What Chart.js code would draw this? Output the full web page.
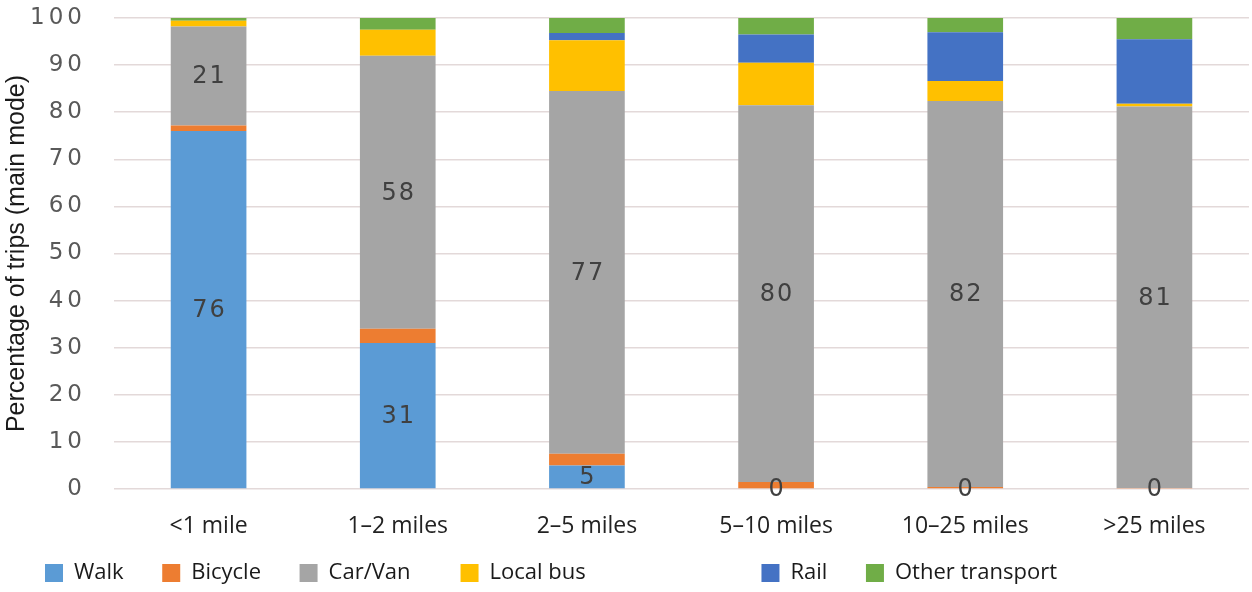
<!DOCTYPE html>
<html>
<head>
<meta charset="utf-8">
<title>Trips by main mode and distance</title>
<script src="https://cdn.jsdelivr.net/npm/chart.js@4.4.1/dist/chart.umd.min.js"></script>
<style>
  html, body { margin: 0; padding: 0; background: #ffffff; }
  canvas { display: block; }
</style>
</head>
<body>
<canvas id="modeChart" width="1252" height="592"></canvas>
<script>
// Trip distance bands (x categories)
const distanceBands = ['<1 mile', '1–2 miles', '2–5 miles', '5–10 miles', '10–25 miles', '>25 miles'];

// Share of trips by main mode, per distance band (%)
const walk     = [76, 31, 5, 0, 0, 0];
const bicycle  = [1.2, 3, 2.5, 1.5, 0.4, 0.2];
const carVan   = [21, 58, 77, 80, 82, 81];
const localBus = [1.2, 5.5, 10.8, 9, 4.2, 0.6];
const rail     = [0, 0, 1.5, 6, 10.4, 13.7];
const other    = [0.6, 2.5, 3.2, 3.5, 3.0, 4.5];

// Mode names and y-axis tick values
const modeNames = ['Walk', 'Bicycle', 'Car/Van', 'Local bus', 'Rail', 'Other transport'];
const percentTicks = [0, 10, 20, 30, 40, 50, 60, 70, 80, 90, 100];

const modeColours = ['#5b9bd5', '#ed7d31', '#a5a5a5', '#ffc000', '#4472c4', '#70ad47'];
const modeValues = [walk, bicycle, carVan, localBus, rail, other];
// Only these series carry value labels inside their segments
const labelledSeries = [0, 2];
// Blank space (in space characters) after each legend entry
const legendGaps = [5, 5, 7, 29, 5, 0];

// Writes the rounded value in the middle of each labelled segment,
// then widens the spacing of the y-axis numerals drawn after the bars.
const segmentLabels = {
  id: 'segmentLabels',
  beforeDraw(chart) {
    chart.ctx.letterSpacing = '0px';
  },
  afterDatasetsDraw(chart) {
    const ctx = chart.ctx;
    ctx.save();
    ctx.font = '24px "DejaVu Sans"';
    ctx.fillStyle = '#404040';
    ctx.textAlign = 'center';
    ctx.textBaseline = 'middle';
    ctx.letterSpacing = '2px';
    labelledSeries.forEach(di => {
      const meta = chart.getDatasetMeta(di);
      const values = chart.data.datasets[di].data;
      meta.data.forEach((bar, i) => {
        const p = bar.getProps(['x', 'y', 'base'], true);
        ctx.fillText(String(Math.round(values[i])), p.x + 1, (p.y + p.base) / 2 + 1);
      });
    });
    ctx.restore();
    ctx.letterSpacing = '4px';
  },
  afterDraw(chart) {
    chart.ctx.letterSpacing = '0px';
  }
};

// Indents the legend row from the left edge of the canvas
const legendIndent = {
  id: 'legendIndent',
  afterLayout(chart) {
    if (chart.legend) chart.legend.left = 35;
  }
};

new Chart(document.getElementById('modeChart'), {
  type: 'bar',
  data: {
    labels: distanceBands,
    datasets: modeNames.map((name, k) => ({
      label: name,
      data: modeValues[k],
      backgroundColor: modeColours[k],
      borderWidth: 0,
      categoryPercentage: 1,
      barPercentage: 0.4
    }))
  },
  options: {
    responsive: false,
    animation: false,
    devicePixelRatio: 1,
    layout: { padding: { top: 18, right: 3, left: 0, bottom: -2 } },
    scales: {
      x: {
        stacked: true,
        grid: { display: false, drawTicks: false },
        border: { display: false },
        ticks: {
          font: { family: '"Open Sans"', size: 23 },
          color: '#222222',
          padding: 24,
          maxRotation: 0,
          autoSkip: false
        },
        afterFit(scale) { scale.height = 63; }
      },
      y: {
        stacked: true,
        min: 0,
        max: 100,
        afterBuildTicks(scale) {
          scale.ticks = percentTicks.map(v => ({ value: v }));
        },
        grid: {
          color: '#e3d9d9',
          lineWidth: 1.5,
          tickLength: 28,
          tickColor: 'rgba(0,0,0,0)'
        },
        border: { display: false },
        ticks: {
          z: 1,
          font: { family: '"DejaVu Sans"', size: 23 },
          color: '#595959',
          padding: 0
        },
        title: {
          display: true,
          text: 'Percentage of trips (main mode)',
          font: { family: '"Liberation Sans", Arial, sans-serif', size: 25 },
          color: '#1a1a1a',
          padding: { top: 2, bottom: 0 }
        },
        afterFit(scale) { scale.width = 114; }
      }
    },
    plugins: {
      tooltip: { enabled: false },
      legend: {
        position: 'bottom',
        align: 'start',
        labels: {
          boxWidth: 18,
          boxHeight: 18,
          padding: 10,
          color: '#1a1a1a',
          font: { family: '"Open Sans"', size: 22 },
          generateLabels(chart) {
            const items = Chart.defaults.plugins.legend.labels.generateLabels(chart);
            items.forEach((item, i) => { item.text = item.text + ' '.repeat(legendGaps[i]); });
            return items;
          }
        }
      }
    }
  },
  plugins: [segmentLabels, legendIndent]
});
</script>
</body>
</html>
